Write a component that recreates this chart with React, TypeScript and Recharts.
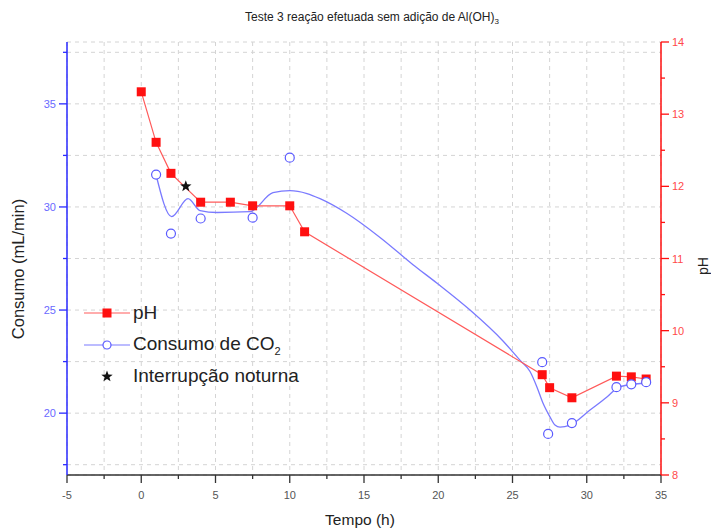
import { ComposedChart, Line, Scatter, XAxis, YAxis, CartesianGrid } from "recharts";

// pH (right axis)
const phTime = [0, 1, 2, 4, 6, 7.5, 10, 11, 27, 27.5, 29, 32, 33, 34];
const phValues = [13.31, 12.61, 12.18, 11.78, 11.78, 11.73, 11.73, 11.37, 9.39, 9.21, 9.07, 9.37, 9.36, 9.33];

// CO2 consumption measured points (left axis)
const co2Time = [1, 2, 4, 7.5, 10, 27, 27.4, 29, 32, 33, 34];
const co2Values = [31.57, 28.71, 29.44, 29.48, 32.39, 22.47, 18.99, 19.52, 21.26, 21.4, 21.5];

// smoothed CO2 curve
const curveTime = [1, 2.05, 3.15, 3.96, 5.1, 7.32, 8.87, 10.02, 11.16, 12.04, 13.86, 16.08, 18.3, 19.92, 22.14, 24.36, 25.5, 26.18, 26.65, 27.05, 27.53, 27.86, 28.2, 28.87, 30.22, 31.36, 32.03, 32.7, 34.05];
const curveValues = [31.55, 29.53, 30.4, 29.82, 29.73, 29.77, 30.69, 30.79, 30.65, 30.4, 29.68, 28.52, 27.2, 26.3, 25.0, 23.5, 22.57, 22.02, 21.26, 20.49, 19.81, 19.42, 19.32, 19.42, 20.15, 20.78, 21.21, 21.36, 21.45];

// night interruption
const nightTime = [3];
const nightValues = [31.0];

const xTicks = [-5, -2.5, 0, 2.5, 5, 7.5, 10, 12.5, 15, 17.5, 20, 22.5, 25, 27.5, 30, 32.5, 35];
const leftTicks = [17.5, 20, 22.5, 25, 27.5, 30, 32.5, 35, 37.5];
const rightTicks = [8, 8.5, 9, 9.5, 10, 10.5, 11, 11.5, 12, 12.5, 13, 13.5, 14];

const phData = phTime.map((x, i) => ({ x, y: phValues[i] }));
const co2Data = co2Time.map((x, i) => ({ x, y: co2Values[i] }));
const curveData = curveTime.map((x, i) => ({ x, y: curveValues[i] }));
const nightData = nightTime.map((x, i) => ({ x, y: nightValues[i] }));

const FONT = "'Liberation Sans', Arial, sans-serif";
const RED = "#ff1010";
const BLUE = "#2a2aff";

const XTick = (props: any) => {
  const { x, y, payload } = props;
  const v = payload.value;
  const major = v % 5 === 0;
  return (
    <g>
      <line x1={x} y1={y} x2={x} y2={y + (major ? 8 : 4)} stroke="#333" strokeWidth={1.3} />
      {major && (
        <text x={x} y={y + 24} textAnchor="middle" fontSize={11} fill="#555" fontFamily={FONT}>
          {v}
        </text>
      )}
    </g>
  );
};

const LeftTick = (props: any) => {
  const { x, y, payload } = props;
  const v = payload.value;
  const major = v % 5 === 0;
  return (
    <g>
      <line x1={x} y1={y} x2={x - (major ? 8 : 4)} y2={y} stroke={BLUE} strokeWidth={1.3} />
      {major && (
        <text x={x - 11} y={y + 4} textAnchor="end" fontSize={11} fill="#6a6aff" fontFamily={FONT}>
          {v}
        </text>
      )}
    </g>
  );
};

const RightTick = (props: any) => {
  const { x, y, payload } = props;
  const v = payload.value;
  const major = v % 1 === 0;
  return (
    <g>
      <line x1={x} y1={y} x2={x + (major ? 8 : 4)} y2={y} stroke={RED} strokeWidth={1.3} />
      {major && (
        <text x={x + 11} y={y + 4} textAnchor="start" fontSize={11} fill="#ff4a4a" fontFamily={FONT}>
          {v}
        </text>
      )}
    </g>
  );
};

const starPath = (cx: number, cy: number, r: number) => {
  const pts: string[] = [];
  for (let i = 0; i < 10; i++) {
    const rad = i % 2 === 0 ? r : r * 0.42;
    const a = -Math.PI / 2 + (i * Math.PI) / 5;
    pts.push(`${cx + rad * Math.cos(a)},${cy + rad * Math.sin(a)}`);
  }
  return `M${pts.join("L")}Z`;
};

const SquareDot = (props: any) => {
  const { cx, cy } = props;
  if (cx == null || cy == null) return null;
  return <rect x={cx - 4.5} y={cy - 4.5} width={9} height={9} fill={RED} />;
};

const CircleShape = (props: any) => {
  const { cx, cy } = props;
  return <circle cx={cx} cy={cy} r={4.5} fill="#fff" stroke="#5a5aff" strokeWidth={1.2} />;
};

const StarShape = (props: any) => {
  const { cx, cy } = props;
  return <path d={starPath(cx, cy, 6)} fill="#111" />;
};

const App = () => {
  return (
    <div style={{ position: "absolute", left: 0, top: 0, width: 711, height: 531, background: "#fff", fontFamily: FONT }}>
      <ComposedChart width={711} height={531} margin={{ top: 42, right: 10, left: 17, bottom: 16 }}>
        <CartesianGrid yAxisId="left" stroke="#d4d4d4" strokeDasharray="4 4" />
        <XAxis
          type="number"
          dataKey="x"
          domain={[-5, 35]}
          ticks={xTicks}
          interval={0}
          tickSize={0}
          tickMargin={0}
          tickLine={false}
          height={40}
          axisLine={{ stroke: "#333", strokeWidth: 1.5 }}
          tick={(p: any) => <XTick {...p} />}
          allowDataOverflow
        />
        <YAxis
          yAxisId="left"
          type="number"
          domain={[17, 38]}
          ticks={leftTicks}
          interval={0}
          tickSize={0}
          tickMargin={0}
          tickLine={false}
          width={50}
          axisLine={{ stroke: BLUE, strokeWidth: 1.5 }}
          tick={(p: any) => <LeftTick {...p} />}
          allowDataOverflow
        />
        <YAxis
          yAxisId="right"
          orientation="right"
          type="number"
          domain={[8, 14]}
          ticks={rightTicks}
          interval={0}
          tickSize={0}
          tickMargin={0}
          tickLine={false}
          width={40}
          axisLine={{ stroke: RED, strokeWidth: 1.5 }}
          tick={(p: any) => <RightTick {...p} />}
          allowDataOverflow
        />
        <Line
          yAxisId="left"
          data={curveData}
          dataKey="y"
          type="monotone"
          stroke="#7a7aff"
          strokeWidth={1.3}
          dot={false}
          activeDot={false}
          isAnimationActive={false}
        />
        <Line
          yAxisId="right"
          data={phData}
          dataKey="y"
          type="linear"
          stroke="#ff5a5a"
          strokeWidth={1.2}
          dot={(p: any) => <SquareDot key={p.index} {...p} />}
          activeDot={false}
          isAnimationActive={false}
        />
        <Scatter
          yAxisId="left"
          data={co2Data}
          dataKey="y"
          shape={(p: any) => <CircleShape {...p} />}
          isAnimationActive={false}
        />
        <Scatter
          yAxisId="left"
          data={nightData}
          dataKey="y"
          shape={(p: any) => <StarShape {...p} />}
          isAnimationActive={false}
        />
      </ComposedChart>

      {/* title */}
      <div style={{ position: "absolute", left: 0, width: 744, top: 10, textAlign: "center", fontSize: 12, color: "#222" }}>
        Teste 3 reação efetuada sem adição de Al(OH)<sub style={{ fontSize: 8 }}>3</sub>
      </div>

      {/* axis titles */}
      <div style={{ position: "absolute", left: 360, top: 511, transform: "translateX(-50%)", fontSize: 15.5, color: "#222", whiteSpace: "nowrap" }}>
        Tempo (h)
      </div>
      <div style={{ position: "absolute", left: 18, top: 269, transform: "translate(-50%, -50%) rotate(-90deg)", fontSize: 16.5, color: "#222", whiteSpace: "nowrap" }}>
        Consumo (mL/min)
      </div>
      <div style={{ position: "absolute", left: 703, top: 266, transform: "translate(-50%, -50%) rotate(-90deg)", fontSize: 14, color: "#222", whiteSpace: "nowrap" }}>
        pH
      </div>

      {/* legend */}
      <div style={{ position: "absolute", left: 84, top: 297, fontSize: 19, color: "#222" }}>
        <div style={{ display: "flex", alignItems: "center", height: 32 }}>
          <svg width={46} height={12}>
            <line x1={0} y1={6} x2={46} y2={6} stroke="#ff5a5a" strokeWidth={1.2} />
            <rect x={18.5} y={1.5} width={9} height={9} fill={RED} />
          </svg>
          <span style={{ marginLeft: 3 }}>pH</span>
        </div>
        <div style={{ display: "flex", alignItems: "center", height: 32 }}>
          <svg width={46} height={12}>
            <line x1={0} y1={6} x2={46} y2={6} stroke="#7a7aff" strokeWidth={1.2} />
            <circle cx={23} cy={6} r={4} fill="#fff" stroke="#5a5aff" strokeWidth={1.2} />
          </svg>
          <span style={{ marginLeft: 3 }}>
            Consumo de CO<sub style={{ fontSize: 11 }}>2</sub>
          </span>
        </div>
        <div style={{ display: "flex", alignItems: "center", height: 30 }}>
          <svg width={46} height={14}>
            <path d={starPath(23, 7.5, 6)} fill="#111" />
          </svg>
          <span style={{ marginLeft: 3 }}>Interrupção noturna</span>
        </div>
      </div>
    </div>
  );
};

export default App;
